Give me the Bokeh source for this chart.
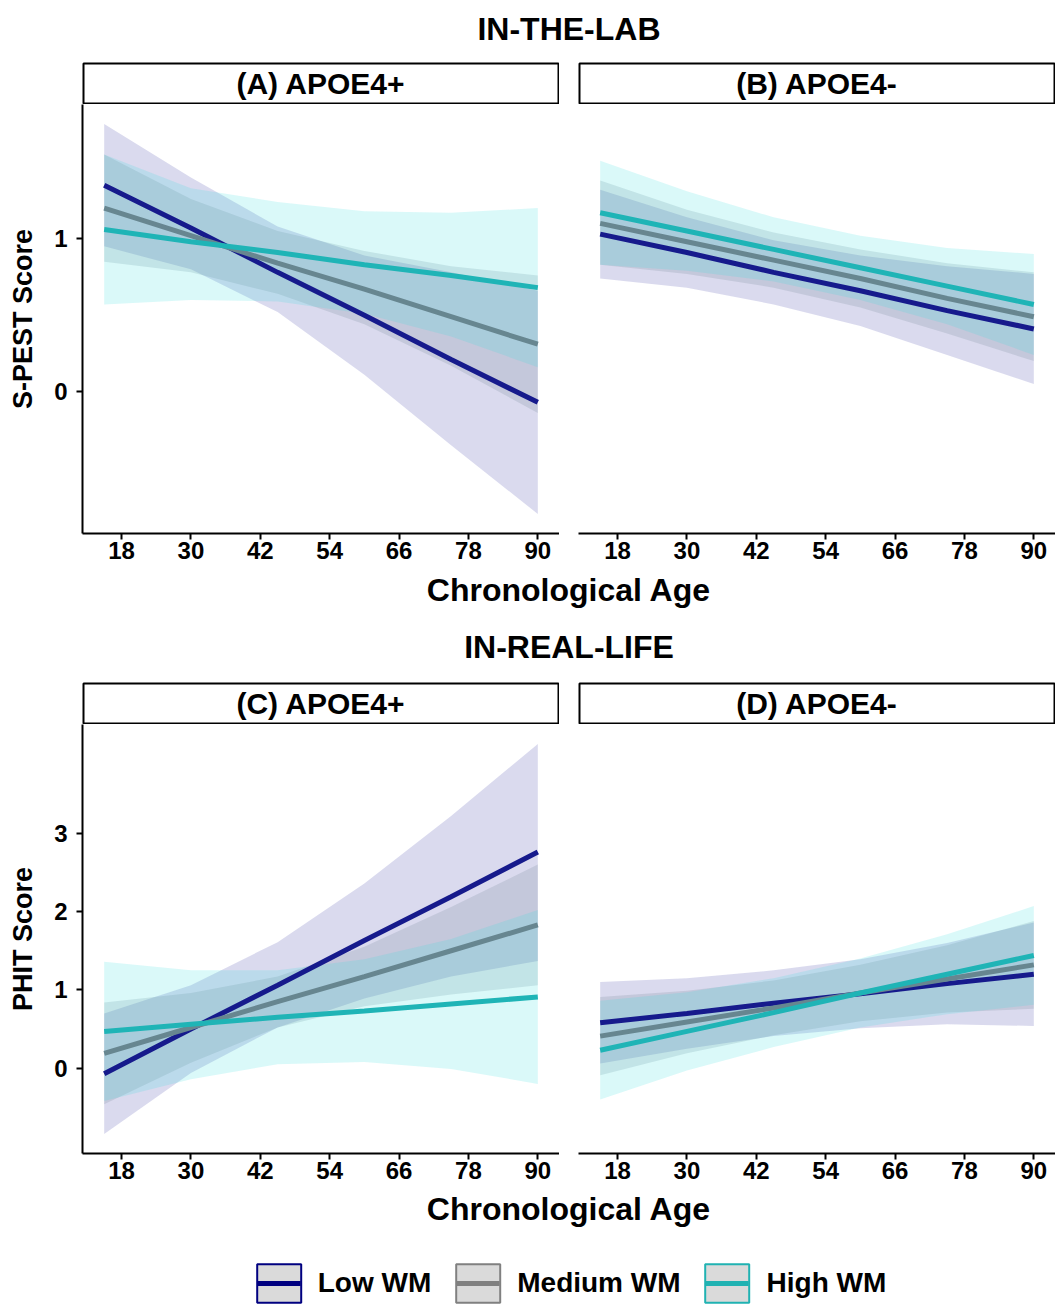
from bokeh.plotting import figure
from bokeh.layouts import column, row
from bokeh.models import Range1d, Label, Legend, LegendItem, FixedTicker
from bokeh.embed import file_html
from bokeh.resources import INLINE

# ---------------- data ----------------
ages = [15, 30, 45, 60, 75, 90]
x_ticks = [18, 30, 42, 54, 66, 78, 90]
group_names = ["Low WM", "Medium WM", "High WM"]

# (A) APOE4+, in-the-lab (S-PEST score)
A_low_fit = [1.35, 1.07, 0.78, 0.50, 0.21, -0.07]
A_low_lo = [0.95, 0.80, 0.52, 0.11, -0.35, -0.80]
A_low_hi = [1.75, 1.40, 1.08, 0.89, 0.78, 0.66]
A_med_fit = [1.20, 1.02, 0.84, 0.67, 0.49, 0.31]
A_med_lo = [0.85, 0.78, 0.64, 0.44, 0.17, -0.14]
A_med_hi = [1.55, 1.26, 1.05, 0.92, 0.82, 0.76]
A_high_fit = [1.06, 0.98, 0.91, 0.83, 0.76, 0.68]
A_high_lo = [0.57, 0.60, 0.59, 0.51, 0.36, 0.16]
A_high_hi = [1.55, 1.33, 1.24, 1.18, 1.17, 1.20]

# (B) APOE4-, in-the-lab
B_low_fit = [1.03, 0.91, 0.78, 0.66, 0.53, 0.41]
B_low_lo = [0.74, 0.68, 0.57, 0.43, 0.24, 0.05]
B_low_hi = [1.32, 1.14, 0.99, 0.89, 0.82, 0.77]
B_med_fit = [1.10, 0.98, 0.86, 0.74, 0.61, 0.49]
B_med_lo = [0.83, 0.77, 0.68, 0.55, 0.38, 0.20]
B_med_hi = [1.38, 1.19, 1.04, 0.93, 0.84, 0.78]
B_high_fit = [1.17, 1.05, 0.93, 0.81, 0.69, 0.57]
B_high_lo = [0.83, 0.79, 0.72, 0.60, 0.44, 0.24]
B_high_hi = [1.51, 1.31, 1.14, 1.02, 0.94, 0.90]

# (C) APOE4+, in-real-life (PHIT score)
C_low_fit = [-0.07, 0.50, 1.06, 1.63, 2.19, 2.76]
C_low_lo = [-0.84, -0.06, 0.52, 0.89, 1.17, 1.37]
C_low_hi = [0.70, 1.06, 1.61, 2.36, 3.22, 4.14]
C_med_fit = [0.19, 0.52, 0.85, 1.17, 1.50, 1.83]
C_med_lo = [-0.46, 0.07, 0.52, 0.79, 0.94, 1.06]
C_med_hi = [0.84, 0.96, 1.17, 1.55, 2.06, 2.60]
C_high_fit = [0.47, 0.56, 0.65, 0.73, 0.82, 0.91]
C_high_lo = [-0.42, -0.14, 0.05, 0.08, -0.01, -0.20]
C_high_hi = [1.36, 1.25, 1.25, 1.39, 1.65, 2.02]

# (D) APOE4-, in-real-life
D_low_fit = [0.58, 0.70, 0.83, 0.95, 1.08, 1.20]
D_low_lo = [0.06, 0.25, 0.41, 0.51, 0.56, 0.54]
D_low_hi = [1.10, 1.15, 1.25, 1.39, 1.60, 1.86]
D_med_fit = [0.41, 0.59, 0.77, 0.96, 1.14, 1.32]
D_med_lo = [-0.09, 0.19, 0.42, 0.60, 0.71, 0.76]
D_med_hi = [0.91, 0.99, 1.12, 1.32, 1.57, 1.88]
D_high_fit = [0.23, 0.47, 0.71, 0.96, 1.20, 1.44]
D_high_lo = [-0.40, -0.03, 0.27, 0.52, 0.69, 0.81]
D_high_hi = [0.86, 0.97, 1.15, 1.40, 1.71, 2.07]

top_y_ticks = [0, 1]
bottom_y_ticks = [0, 1, 2, 3]

# ---------------- styling ----------------
FONT = "Liberation Sans"
LINE_COLORS = ["#161a8c", "#678690", "#1fb4b6"]
FILL_COLORS = ["#3030a0", "#708090", "#30e0e0"]
FILL_ALPHA = [0.18, 0.2, 0.18]
KEY_LINE = ["#000080", "#808080", "#20b2b2"]

GUTTER = 82
PANEL_W = 477
GAP = 19
FRAME_H = 429
STRIP_H = 42
AXIS_H = 36


def expanded(lo, hi, f=0.05):
    d = (hi - lo) * f
    return lo - d, hi + d


x0, x1 = expanded(min(ages), max(ages))

PANELS = {
    "A": [(A_low_fit, A_low_lo, A_low_hi), (A_med_fit, A_med_lo, A_med_hi), (A_high_fit, A_high_lo, A_high_hi)],
    "B": [(B_low_fit, B_low_lo, B_low_hi), (B_med_fit, B_med_lo, B_med_hi), (B_high_fit, B_high_lo, B_high_hi)],
    "C": [(C_low_fit, C_low_lo, C_low_hi), (C_med_fit, C_med_lo, C_med_hi), (C_high_fit, C_high_lo, C_high_hi)],
    "D": [(D_low_fit, D_low_lo, D_low_hi), (D_med_fit, D_med_lo, D_med_hi), (D_high_fit, D_high_lo, D_high_hi)],
}


def y_range_for(keys):
    los = [v for k in keys for (_, lo, _) in PANELS[k] for v in lo]
    his = [v for k in keys for (_, _, hi) in PANELS[k] for v in hi]
    a, b = expanded(min(los), max(his))
    return Range1d(a, b)


def make_panel(key, y_range, y_ticks, first, ylabel):
    p = figure(frame_width=PANEL_W, frame_height=FRAME_H,
               x_range=Range1d(x0, x1), y_range=y_range,
               output_backend="svg", toolbar_location=None,
               min_border_left=GUTTER if first else GAP, min_border_right=0,
               min_border_top=0, min_border_bottom=AXIS_H)
    p.outline_line_color = None
    p.grid.visible = False
    for (fit, lo, hi), fc, fa in zip(PANELS[key], FILL_COLORS, FILL_ALPHA):
        p.varea(x=ages, y1=lo, y2=hi, fill_color=fc, fill_alpha=fa)
    for (fit, lo, hi), lc in zip(PANELS[key], LINE_COLORS):
        p.line(ages, fit, line_color=lc, line_width=5)

    ax = p.xaxis[0]
    ax.ticker = FixedTicker(ticks=x_ticks)
    ax.major_label_text_font = FONT
    ax.major_label_text_font_size = "24px"
    ax.major_label_text_font_style = "bold"
    ax.major_label_text_color = "black"
    ax.major_tick_out = 6
    ax.major_tick_in = 0
    ax.minor_tick_out = 0
    ax.minor_tick_in = 0
    ax.axis_line_width = 2
    ax.major_tick_line_width = 2
    ax.major_label_standoff = 2

    if first:
        ay = p.yaxis[0]
        ay.ticker = FixedTicker(ticks=y_ticks)
        ay.axis_label = ylabel
        ay.axis_label_text_font = FONT
        ay.axis_label_text_font_size = "27px"
        ay.axis_label_text_font_style = "bold"
        ay.axis_label_text_color = "black"
        ay.axis_label_standoff = 13
        ay.major_label_text_font = FONT
        ay.major_label_text_font_size = "24px"
        ay.major_label_text_font_style = "bold"
        ay.major_label_text_color = "black"
        ay.major_tick_out = 6
        ay.major_tick_in = 0
        ay.minor_tick_out = 0
        ay.minor_tick_in = 0
        ay.axis_line_width = 2
        ay.major_tick_line_width = 2
        ay.major_label_standoff = 9
    else:
        p.yaxis.visible = False
    return p


def make_strip(text, first):
    p = figure(frame_width=PANEL_W - 2, frame_height=STRIP_H - 2,
               x_range=Range1d(0, 1), y_range=Range1d(0, 1),
               x_axis_type=None, y_axis_type=None,
               output_backend="svg", toolbar_location=None,
               min_border_left=(GUTTER if first else GAP) + 1, min_border_right=1,
               min_border_top=1, min_border_bottom=1)
    p.grid.visible = False
    p.outline_line_color = "black"
    p.outline_line_width = 2
    p.add_layout(Label(x=0.5, y=0.5, text=text, text_align="center", text_baseline="middle",
                       text_font=FONT, text_font_size="30px", text_font_style="bold",
                       text_color="black"))
    return p


def make_text_fig(h, labels):
    p = figure(frame_width=2 * PANEL_W + GAP, frame_height=h,
               x_range=Range1d(0, 1), y_range=Range1d(h, 0),
               x_axis_type=None, y_axis_type=None,
               output_backend="svg", toolbar_location=None,
               min_border_left=GUTTER, min_border_right=0,
               min_border_top=0, min_border_bottom=0)
    p.grid.visible = False
    p.outline_line_color = None
    for text, yy, size in labels:
        p.add_layout(Label(x=0.5, y=yy, text=text, text_align="center", text_baseline="middle",
                           text_font=FONT, text_font_size=size, text_font_style="bold",
                           text_color="black"))
    return p


top_range = y_range_for(["A", "B"])
bottom_range = y_range_for(["C", "D"])

title_top = make_text_fig(62, [("IN-THE-LAB", 28, "32px")])
strips_top = row(make_strip("(A) APOE4+", True), make_strip("(B) APOE4-", False))
panels_top = row(make_panel("A", top_range, top_y_ticks, True, "S-PEST Score"),
                 make_panel("B", top_range, top_y_ticks, False, ""))
middle = make_text_fig(113, [("Chronological Age", 20, "32px"), ("IN-REAL-LIFE", 77, "32px")])
strips_bottom = row(make_strip("(C) APOE4+", True), make_strip("(D) APOE4-", False))
panels_bottom = row(make_panel("C", bottom_range, bottom_y_ticks, True, "PHIT Score"),
                    make_panel("D", bottom_range, bottom_y_ticks, False, ""))
bottom = make_text_fig(118, [("Chronological Age", 19, "32px")])

# legend key renderers: their data lies outside the (0..1) x range of this strip, so only
# the legend draws them. The dash pattern keeps the key line inside the key box.
items = []
for name, lc, (fit, lo, hi) in zip(group_names, KEY_LINE, PANELS["A"]):
    r1 = bottom.quad(left=[min(ages)], right=[max(ages)], top=[max(hi)], bottom=[min(lo)],
                     fill_color="#dadada", line_color=lc, line_width=2)
    r2 = bottom.line(x=ages, y=fit, line_color=lc, line_width=5, line_dash="0 6 43 80")
    items.append(LegendItem(label=name, renderers=[r1, r2]))
legend = Legend(items=items, orientation="horizontal", location="bottom_center",
                glyph_width=55, glyph_height=48, label_standoff=12, spacing=19,
                padding=0, margin=0, border_line_color=None, background_fill_alpha=0,
                label_text_font=FONT, label_text_font_size="28px",
                label_text_font_style="bold", label_text_color="black")
bottom.add_layout(legend)

layout = column(title_top, strips_top, panels_top, middle, strips_bottom, panels_bottom, bottom)

open("out.html", "w").write(file_html(layout, INLINE))
